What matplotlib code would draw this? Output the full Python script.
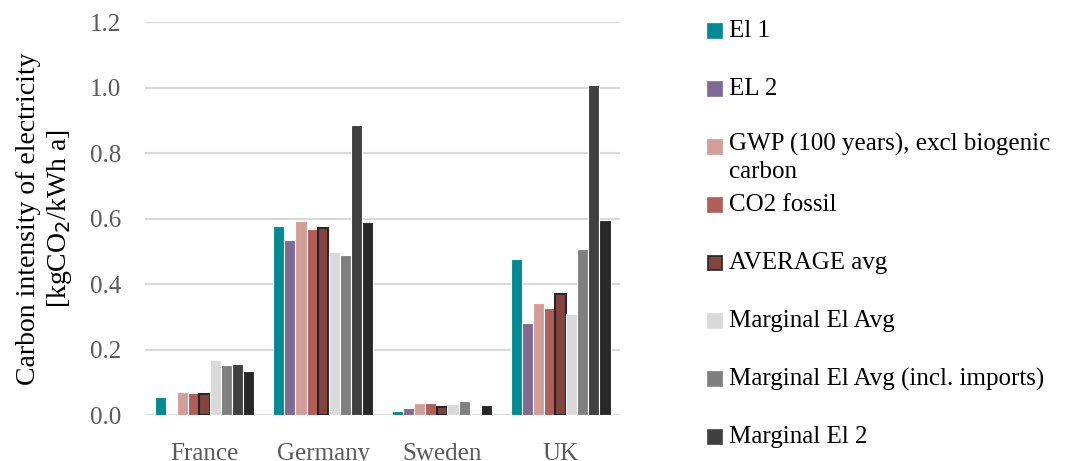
import numpy as np
import matplotlib
matplotlib.use("Agg")
import matplotlib.pyplot as plt
from matplotlib.patches import Rectangle

plt.rcParams["font.family"] = ["Liberation Serif", "DejaVu Serif"]

# ── Data ──────────────────────────────────────────────────────────────────────
countries = ["France", "Germany", "Sweden", "UK"]
series = [
    "El 1", "EL 2", "GWP (100 years), excl biogenic\ncarbon", "CO2 fossil",
    "AVERAGE avg", "Marginal El Avg", "Marginal El Avg (incl. imports)",
    "Marginal El 2", None,
]
el1       = [0.056, 0.577, 0.014, 0.478]
el2       = [0.0,   0.536, 0.023, 0.282]
gwp       = [0.073, 0.593, 0.038, 0.344]
co2       = [0.068, 0.570, 0.037, 0.328]
average   = [0.067, 0.572, 0.027, 0.370]
marg_avg  = [0.169, 0.499, 0.034, 0.309]
marg_imp  = [0.154, 0.489, 0.045, 0.509]
marg_el2  = [0.157, 0.886, 0.0,   1.008]
marg_el2b = [0.135, 0.589, 0.031, 0.598]
values = [el1, el2, gwp, co2, average, marg_avg, marg_imp, marg_el2, marg_el2b]

colors = ["#008B94", "#7E6A93", "#D29E9A", "#B05F58", "#84433F",
          "#D9D9D9", "#7F7F7F", "#404040", "#282828"]

# ── Plot ──────────────────────────────────────────────────────────────────────
fig = plt.figure(figsize=(10.67, 4.61), dpi=100)
ax = fig.add_axes([0.136, 0.0987, 0.445, 0.853])

x = np.arange(len(countries))
pitch = 0.0935
for i, (vals, col) in enumerate(zip(values, colors)):
    off = (i - 4) * pitch
    if i == 4:
        ax.bar(x + off, vals, width=pitch * 0.92, color=col,
               edgecolor="#262626", linewidth=1.5, zorder=3)
    else:
        ax.bar(x + off, vals, width=pitch, color=col,
               edgecolor="white", linewidth=0.8, zorder=3)

ax.set_xlim(-0.5, 3.5)
ax.set_ylim(0, 1.2)
ax.set_yticks(np.arange(0, 1.21, 0.2))
ax.set_yticklabels([f"{v:.1f}" for v in np.arange(0, 1.21, 0.2)])
ax.set_xticks(x)
ax.set_xticklabels(countries)
ax.grid(axis="y", color="#D9D9D9", linewidth=1.5, zorder=0)
for s in ax.spines.values():
    s.set_visible(False)
ax.tick_params(axis="both", length=0, labelsize=18, labelcolor="#595959")
ax.tick_params(axis="y", pad=17)
ax.tick_params(axis="x", pad=20)
ax.set_ylabel("Carbon intensity of electricity\n[kgCO$_2$/kWh a]",
              fontsize=20, labelpad=12, linespacing=1.15)

# legend, drawn by hand so the wrapped entry keeps the even spacing
y0, step = 1 - 31 / 461, 58 / 461
for i, (lab, col) in enumerate(zip(series, colors)):
    if lab is None:
        continue
    yc = y0 - i * step
    ec = "#262626" if i == 4 else col
    fig.patches.append(Rectangle((708 / 1067, yc - 7 / 461), 14 / 1067, 14 / 461,
                                 transform=fig.transFigure, facecolor=col,
                                 edgecolor=ec, linewidth=1.2))
    if "\n" in lab:
        fig.text(729 / 1067, yc + 14 / 461, lab, fontsize=18, va="top",
                 ha="left", linespacing=1.3)
    else:
        fig.text(729 / 1067, yc, lab, fontsize=18, va="center", ha="left")

fig.savefig("out.png", dpi=100)
